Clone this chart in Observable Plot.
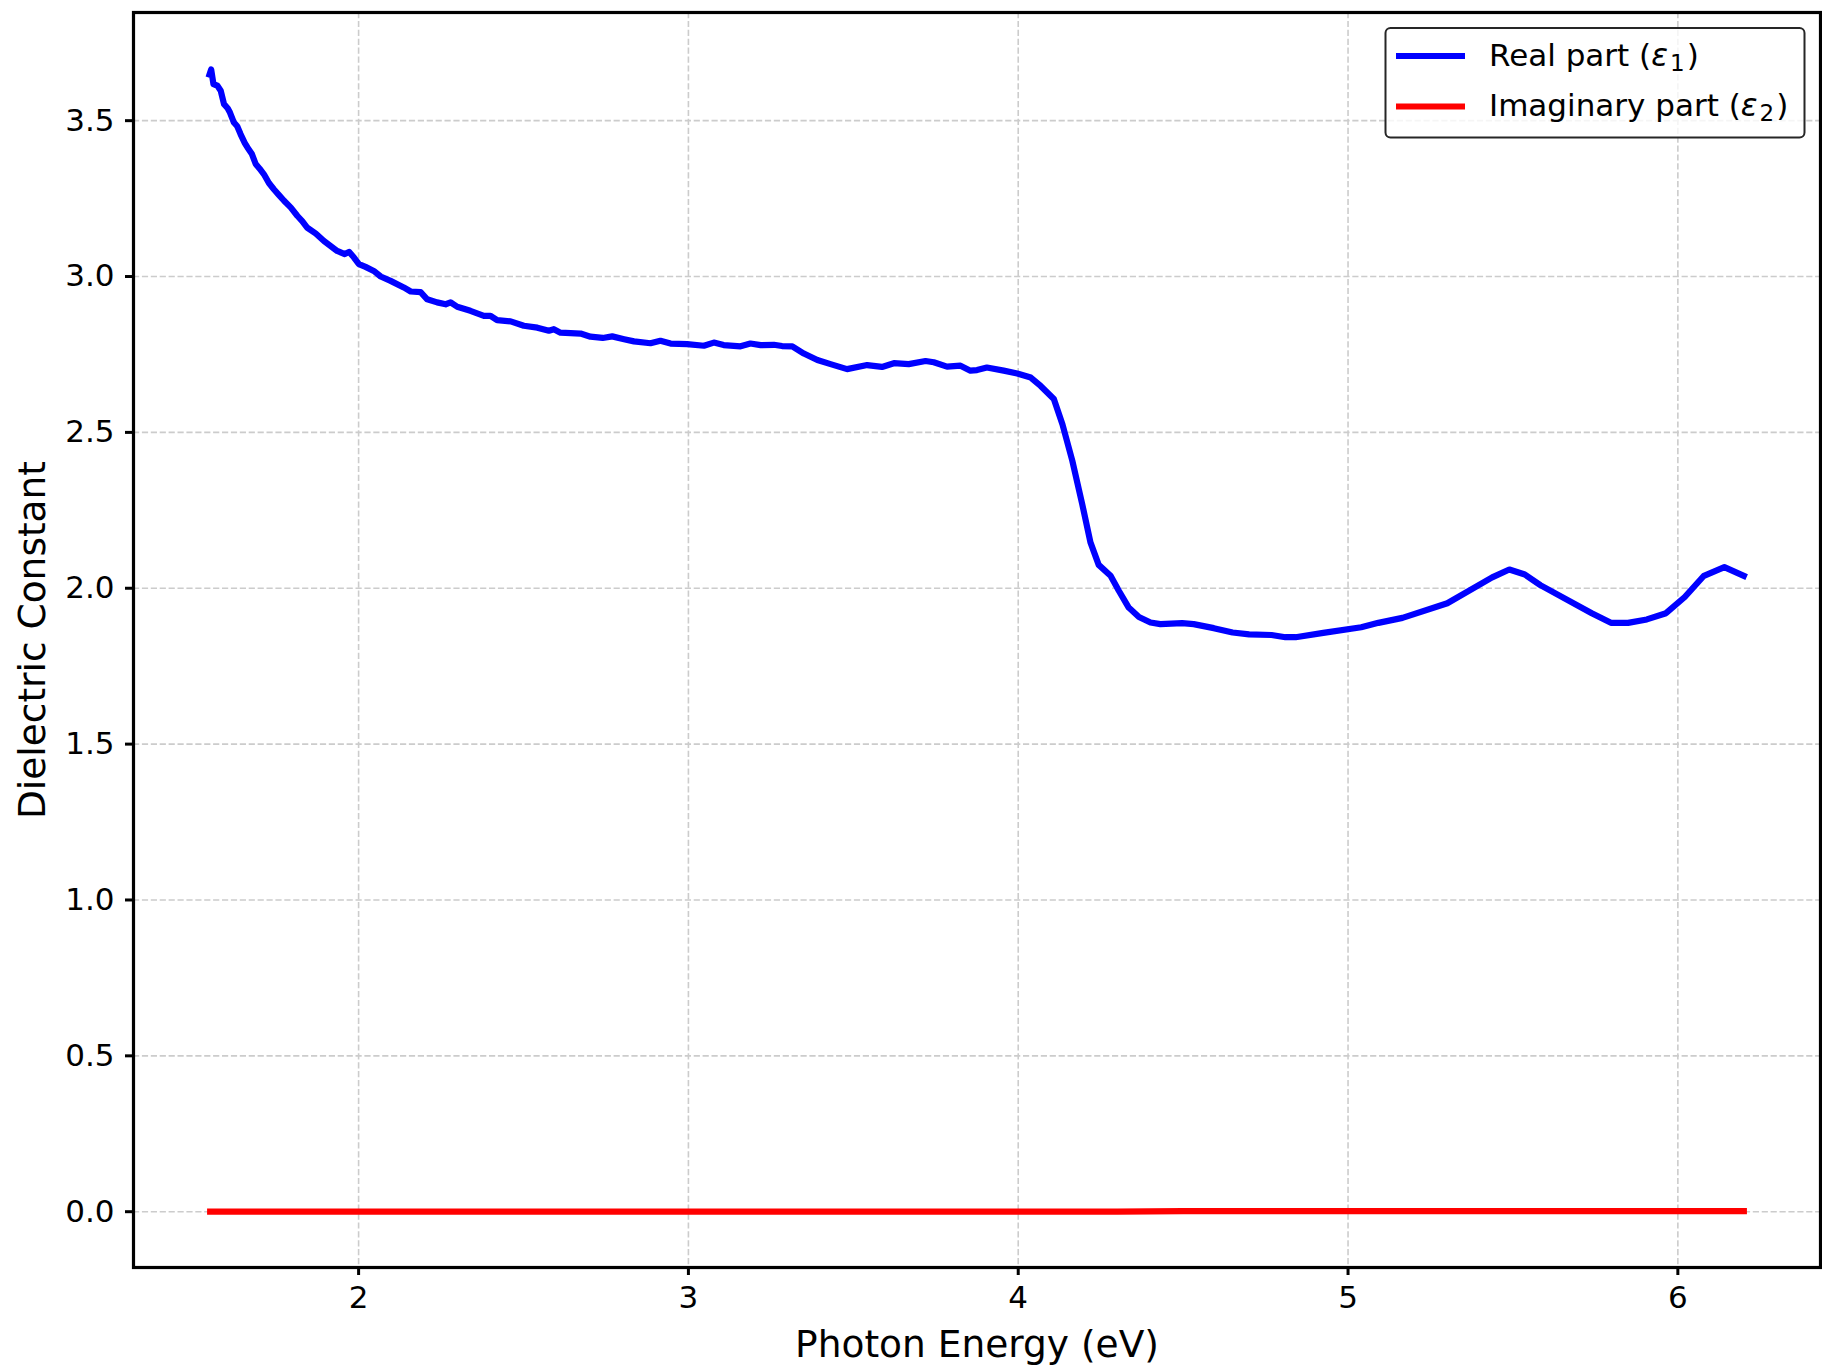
<!DOCTYPE html>
<html><head><meta charset="utf-8">
<script src="https://cdn.jsdelivr.net/npm/d3@7"></script>
<script src="https://cdn.jsdelivr.net/npm/@observablehq/plot@0.6"></script>
<style>
html,body{margin:0;padding:0;background:#fff;}
#chart{width:1822px;height:1366px;}
</style>
</head><body><div id="chart"></div>
<script>
// Photon energy (eV) for the real part
const energy = [
  1.548, 1.553, 1.560, 1.572, 1.582, 1.592, 1.603, 1.610, 1.622, 1.632,
  1.642, 1.655, 1.663, 1.676, 1.688, 1.700, 1.713, 1.728, 1.743, 1.758,
  1.774, 1.794, 1.814, 1.829, 1.844, 1.870, 1.895, 1.915, 1.935, 1.958,
  1.971, 1.986, 2.001, 2.021, 2.046, 2.067, 2.097, 2.137, 2.158, 2.188,
  2.208, 2.238, 2.264, 2.279, 2.299, 2.339, 2.380, 2.400, 2.420, 2.461,
  2.501, 2.542, 2.577, 2.592, 2.612, 2.673, 2.703, 2.740, 2.769, 2.805,
  2.835, 2.885, 2.915, 2.946, 2.996, 3.047, 3.077, 3.107, 3.158, 3.188,
  3.219, 3.259, 3.284, 3.315, 3.350, 3.391, 3.431, 3.481, 3.542, 3.587,
  3.623, 3.668, 3.719, 3.744, 3.784, 3.825, 3.855, 3.875, 3.905, 3.956,
  3.997, 4.038, 4.068, 4.108, 4.134, 4.164, 4.194, 4.219, 4.244, 4.280,
  4.305, 4.335, 4.366, 4.401, 4.431, 4.497, 4.532, 4.593, 4.650, 4.700,
  4.768, 4.810, 4.841, 4.925, 5.040, 5.092, 5.165, 5.301, 5.437, 5.489,
  5.536, 5.583, 5.739, 5.797, 5.849, 5.906, 5.964, 6.021, 6.079, 6.141,
  6.200
];
// Real part epsilon_1
const eps1 = [
  3.648, 3.664, 3.617, 3.612, 3.596, 3.553, 3.540, 3.526, 3.494, 3.482,
  3.457, 3.428, 3.414, 3.394, 3.361, 3.346, 3.328, 3.300, 3.280, 3.262,
  3.243, 3.222, 3.195, 3.178, 3.157, 3.138, 3.114, 3.098, 3.082, 3.072,
  3.079, 3.061, 3.040, 3.031, 3.018, 3.000, 2.986, 2.965, 2.952, 2.950,
  2.927, 2.917, 2.911, 2.917, 2.903, 2.890, 2.874, 2.874, 2.860, 2.856,
  2.842, 2.836, 2.826, 2.831, 2.820, 2.817, 2.807, 2.803, 2.808, 2.799,
  2.792, 2.786, 2.794, 2.785, 2.783, 2.778, 2.788, 2.780, 2.776, 2.785,
  2.780, 2.781, 2.777, 2.776, 2.753, 2.732, 2.719, 2.703, 2.716, 2.710,
  2.722, 2.719, 2.729, 2.725, 2.711, 2.714, 2.698, 2.700, 2.708, 2.698,
  2.689, 2.676, 2.649, 2.607, 2.526, 2.409, 2.270, 2.147, 2.075, 2.040,
  1.992, 1.938, 1.908, 1.890, 1.885, 1.888, 1.885, 1.872, 1.858, 1.852,
  1.850, 1.843, 1.843, 1.857, 1.875, 1.889, 1.905, 1.952, 2.035, 2.060,
  2.044, 2.010, 1.920, 1.889, 1.889, 1.900, 1.920, 1.972, 2.040, 2.068,
  2.040
];
// Imaginary part epsilon_2
const energy2 = [1.55, 2.00, 2.50, 3.00, 3.50, 4.00, 4.30, 4.50, 5.00, 5.50, 6.00, 6.20];
const eps2    = [0.000, 0.000, 0.000, 0.000, 0.000, 0.000, 0.000, 0.002, 0.002, 0.002, 0.002, 0.002];

const xTicks = [2, 3, 4, 5, 6];
const yTicks = [0.0, 0.5, 1.0, 1.5, 2.0, 2.5, 3.0, 3.5];

const seriesNames = ["Real part (", "Imaginary part ("];
const seriesSubs = ["1", "2"];
const seriesColors = ["#0000ff", "#ff0000"];

const realData = energy.map((e, i) => ({e, v: eps1[i]}));
const imagData = energy2.map((e, i) => ({e, v: eps2[i]}));

const gridStyle = {stroke: "#cccccc", strokeOpacity: 1, strokeWidth: 1.6, strokeDasharray: "6.2,2.7"};

const plot = Plot.plot({
  width: 1822,
  height: 1366,
  marginLeft: 133,
  marginRight: 2,
  marginTop: 12,
  marginBottom: 99,
  style: {fontFamily: "'DejaVu Sans', sans-serif", fontSize: "31px", color: "black", background: "white"},
  x: {domain: [1.3175, 6.4325]},
  y: {domain: [-0.179, 3.847]},
  marks: [
    Plot.gridX(xTicks, gridStyle),
    Plot.gridY(yTicks, gridStyle),
    Plot.line(realData, {x: "e", y: "v", stroke: seriesColors[0], strokeWidth: 6.2, strokeLinecap: "square", strokeLinejoin: "round"}),
    Plot.line(imagData, {x: "e", y: "v", stroke: seriesColors[1], strokeWidth: 6.2, strokeLinecap: "square", strokeLinejoin: "round"}),
    Plot.frame({stroke: "black", strokeWidth: 3.2}),
    Plot.axisX(xTicks, {tickSize: 8, tickPadding: 10, strokeWidth: 3, fontSize: 31, label: null, tickFormat: d => String(d)}),
    Plot.axisY(yTicks, {tickSize: 8, tickPadding: 11, strokeWidth: 3, fontSize: 31, label: null, tickFormat: d3.format(".1f")}),
    Plot.text(["Photon Energy (eV)"], {frameAnchor: "bottom", text: d => d, dy: 77, fontSize: 37.5, lineAnchor: "middle", textAnchor: "middle"}),
    Plot.text(["Dielectric Constant"], {frameAnchor: "left", text: d => d, rotate: -90, dx: -101, fontSize: 37.5, lineAnchor: "middle", textAnchor: "middle"})
  ]
});

document.getElementById("chart").appendChild(plot);

// Legend (matplotlib-style, upper right, inside the axes)
const svg = d3.select(plot);
const lg = svg.append("g").attr("class", "legend");
lg.append("rect")
  .attr("x", 1385.5).attr("y", 28).attr("width", 419).attr("height", 109.5)
  .attr("rx", 5).attr("ry", 5)
  .attr("fill", "white").attr("fill-opacity", 0.8)
  .attr("stroke", "#262626").attr("stroke-width", 2);
const rowY = [56, 106.5];
seriesNames.forEach((name, i) => {
  lg.append("line")
    .attr("x1", 1396).attr("x2", 1465).attr("y1", rowY[i]).attr("y2", rowY[i])
    .attr("stroke", seriesColors[i]).attr("stroke-width", 6.2);
  const t = lg.append("text")
    .attr("x", 1489).attr("y", rowY[i] + 9.5)
    .attr("text-anchor", "start")
    .attr("font-size", 31).attr("fill", "black");
  t.append("tspan").text(name);
  t.append("tspan").attr("font-style", "italic").text("ε");
  t.append("tspan").attr("font-size", 23).attr("dx", 2).attr("dy", 5).text(seriesSubs[i]);
  t.append("tspan").attr("dx", 2).attr("dy", -5).text(")");
});
</script>
</body></html>
